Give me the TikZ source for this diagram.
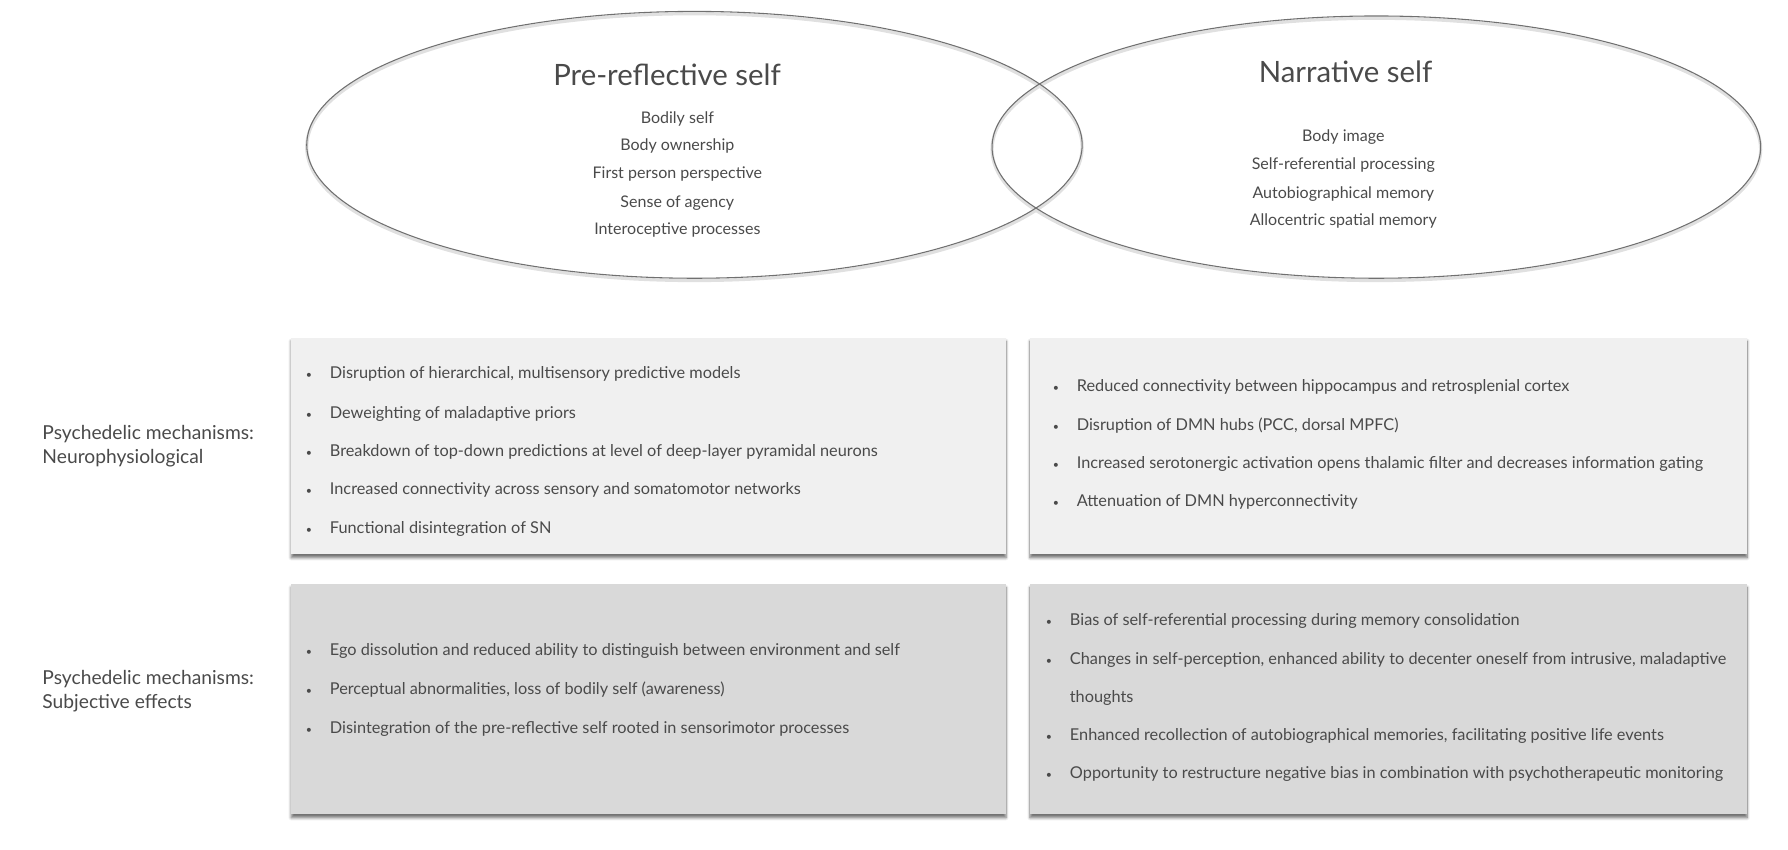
\documentclass[tikz,border=0pt]{standalone}
\usepackage{fontspec}
\setmainfont{Lato}
\usepackage{tikz}
\usetikzlibrary{shadows.blur}
\definecolor{inkgray}{HTML}{4A4A4A}
\definecolor{rimgray}{HTML}{707070}
\definecolor{paleface}{HTML}{F0F0F0}
\definecolor{darkface}{HTML}{D9D9D9}
\newcommand{\blt}{\makebox[18pt][l]{\footnotesize\textbullet}}

\begin{document}
\begin{tikzpicture}[x=0.03cm, y=-0.03cm,
    ringshade/.style={draw=black!12, line width=2.4pt},
    selfring/.style={draw=rimgray, line width=0.8pt},
    headline/.style={text=inkgray, font=\fontsize{22}{24}\selectfont},
    aspect/.style={text=inkgray, font=\fontsize{12}{14}\selectfont},
    panel/.style={draw=none, minimum width=#1*0.03cm, minimum height=190*0.03cm, anchor=north west,
        blur shadow={shadow xshift=0pt, shadow yshift=-2.5pt, shadow opacity=55, shadow blur steps=6}},
    item/.style={anchor=west, text=inkgray, font=\fontsize{12.2}{14}\selectfont, inner sep=0pt},
    rowlabel/.style={anchor=west, align=left, text=inkgray, font=\fontsize{14.4}{18}\selectfont, inner sep=0pt}]
\useasboundingbox (0,0) rectangle (1568,745);

% the two selves
\draw[ringshade] (609,129) ellipse [x radius=340, y radius=117];
\draw[ringshade] (1207,131) ellipse [x radius=337, y radius=115];
\draw[selfring] (609,127) ellipse [x radius=340, y radius=117];
\draw[selfring] (1207,129) ellipse [x radius=337, y radius=115];

\node[headline] (prself) at (585,66) {Pre-reflective self};
\node[aspect] (pr1) at (594,104) {Bodily self};
\node[aspect] (pr2) at (594,128) {Body ownership};
\node[aspect] (pr3) at (594,153) {First person perspective};
\node[aspect] (pr4) at (594,178) {Sense of agency};
\node[aspect] (pr5) at (594,202) {Interoceptive processes};

\node[headline] (narself) at (1180,63) {Narrative self};
\node[aspect] (na1) at (1178,120) {Body image};
\node[aspect] (na2) at (1178,145) {Self-referential processing};
\node[aspect] (na3) at (1178,170) {Autobiographical memory};
\node[aspect] (na4) at (1178,194) {Allocentric spatial memory};

% panels
\node[panel=627, fill=paleface] (neuroL) at (255,296) {};
\node[panel=629, fill=paleface] (neuroR) at (903,296) {};
\node[panel=627, fill=darkface, minimum height=202*0.03cm] (subjL) at (255,512) {};
\node[panel=629, fill=darkface, minimum height=202*0.03cm] (subjR) at (903,512) {};

\node[rowlabel] (neuroLab) at (37,391) {Psychedelic mechanisms:\\Neurophysiological};
\node[rowlabel] (subjLab) at (37,606) {Psychedelic mechanisms:\\Subjective effects};

% neurophysiological
\node[item] (nl1) at (268,328) {\blt Disruption of hierarchical, multisensory predictive models};
\node[item] (nl2) at (268,363) {\blt Deweighting of maladaptive priors};
\node[item] (nl3) at (268,396) {\blt Breakdown of top-down predictions at level of deep-layer pyramidal neurons};
\node[item] (nl4) at (268,430) {\blt Increased connectivity across sensory and somatomotor networks};
\node[item] (nl5) at (268,464) {\blt Functional disintegration of SN};

\node[item] (nr1) at (923,339) {\blt Reduced connectivity between hippocampus and retrosplenial cortex};
\node[item] (nr2) at (923,373) {\blt Disruption of DMN hubs (PCC, dorsal MPFC)};
\node[item] (nr3) at (923,407) {\blt Increased serotonergic activation opens thalamic filter and decreases information gating};
\node[item] (nr4) at (923,440) {\blt Attenuation of DMN hyperconnectivity};

% subjective effects
\node[item] (sl1) at (268,571) {\blt Ego dissolution and reduced ability to distinguish between environment and self};
\node[item] (sl2) at (268,605) {\blt Perceptual abnormalities, loss of bodily self (awareness)};
\node[item] (sl3) at (268,639) {\blt Disintegration of the pre-reflective self rooted in sensorimotor processes};

\node[item] (sr1) at (917,545) {\blt Bias of self-referential processing during memory consolidation};
\node[item] (sr2) at (917,579) {\blt Changes in self-perception, enhanced ability to decenter oneself from intrusive, maladaptive};
\node[item] (sr2b) at (938,612) {thoughts};
\node[item] (sr3) at (917,645) {\blt Enhanced recollection of autobiographical memories, facilitating positive life events};
\node[item] (sr4) at (917,679) {\blt Opportunity to restructure negative bias in combination with psychotherapeutic monitoring};
\end{tikzpicture}
\end{document}
